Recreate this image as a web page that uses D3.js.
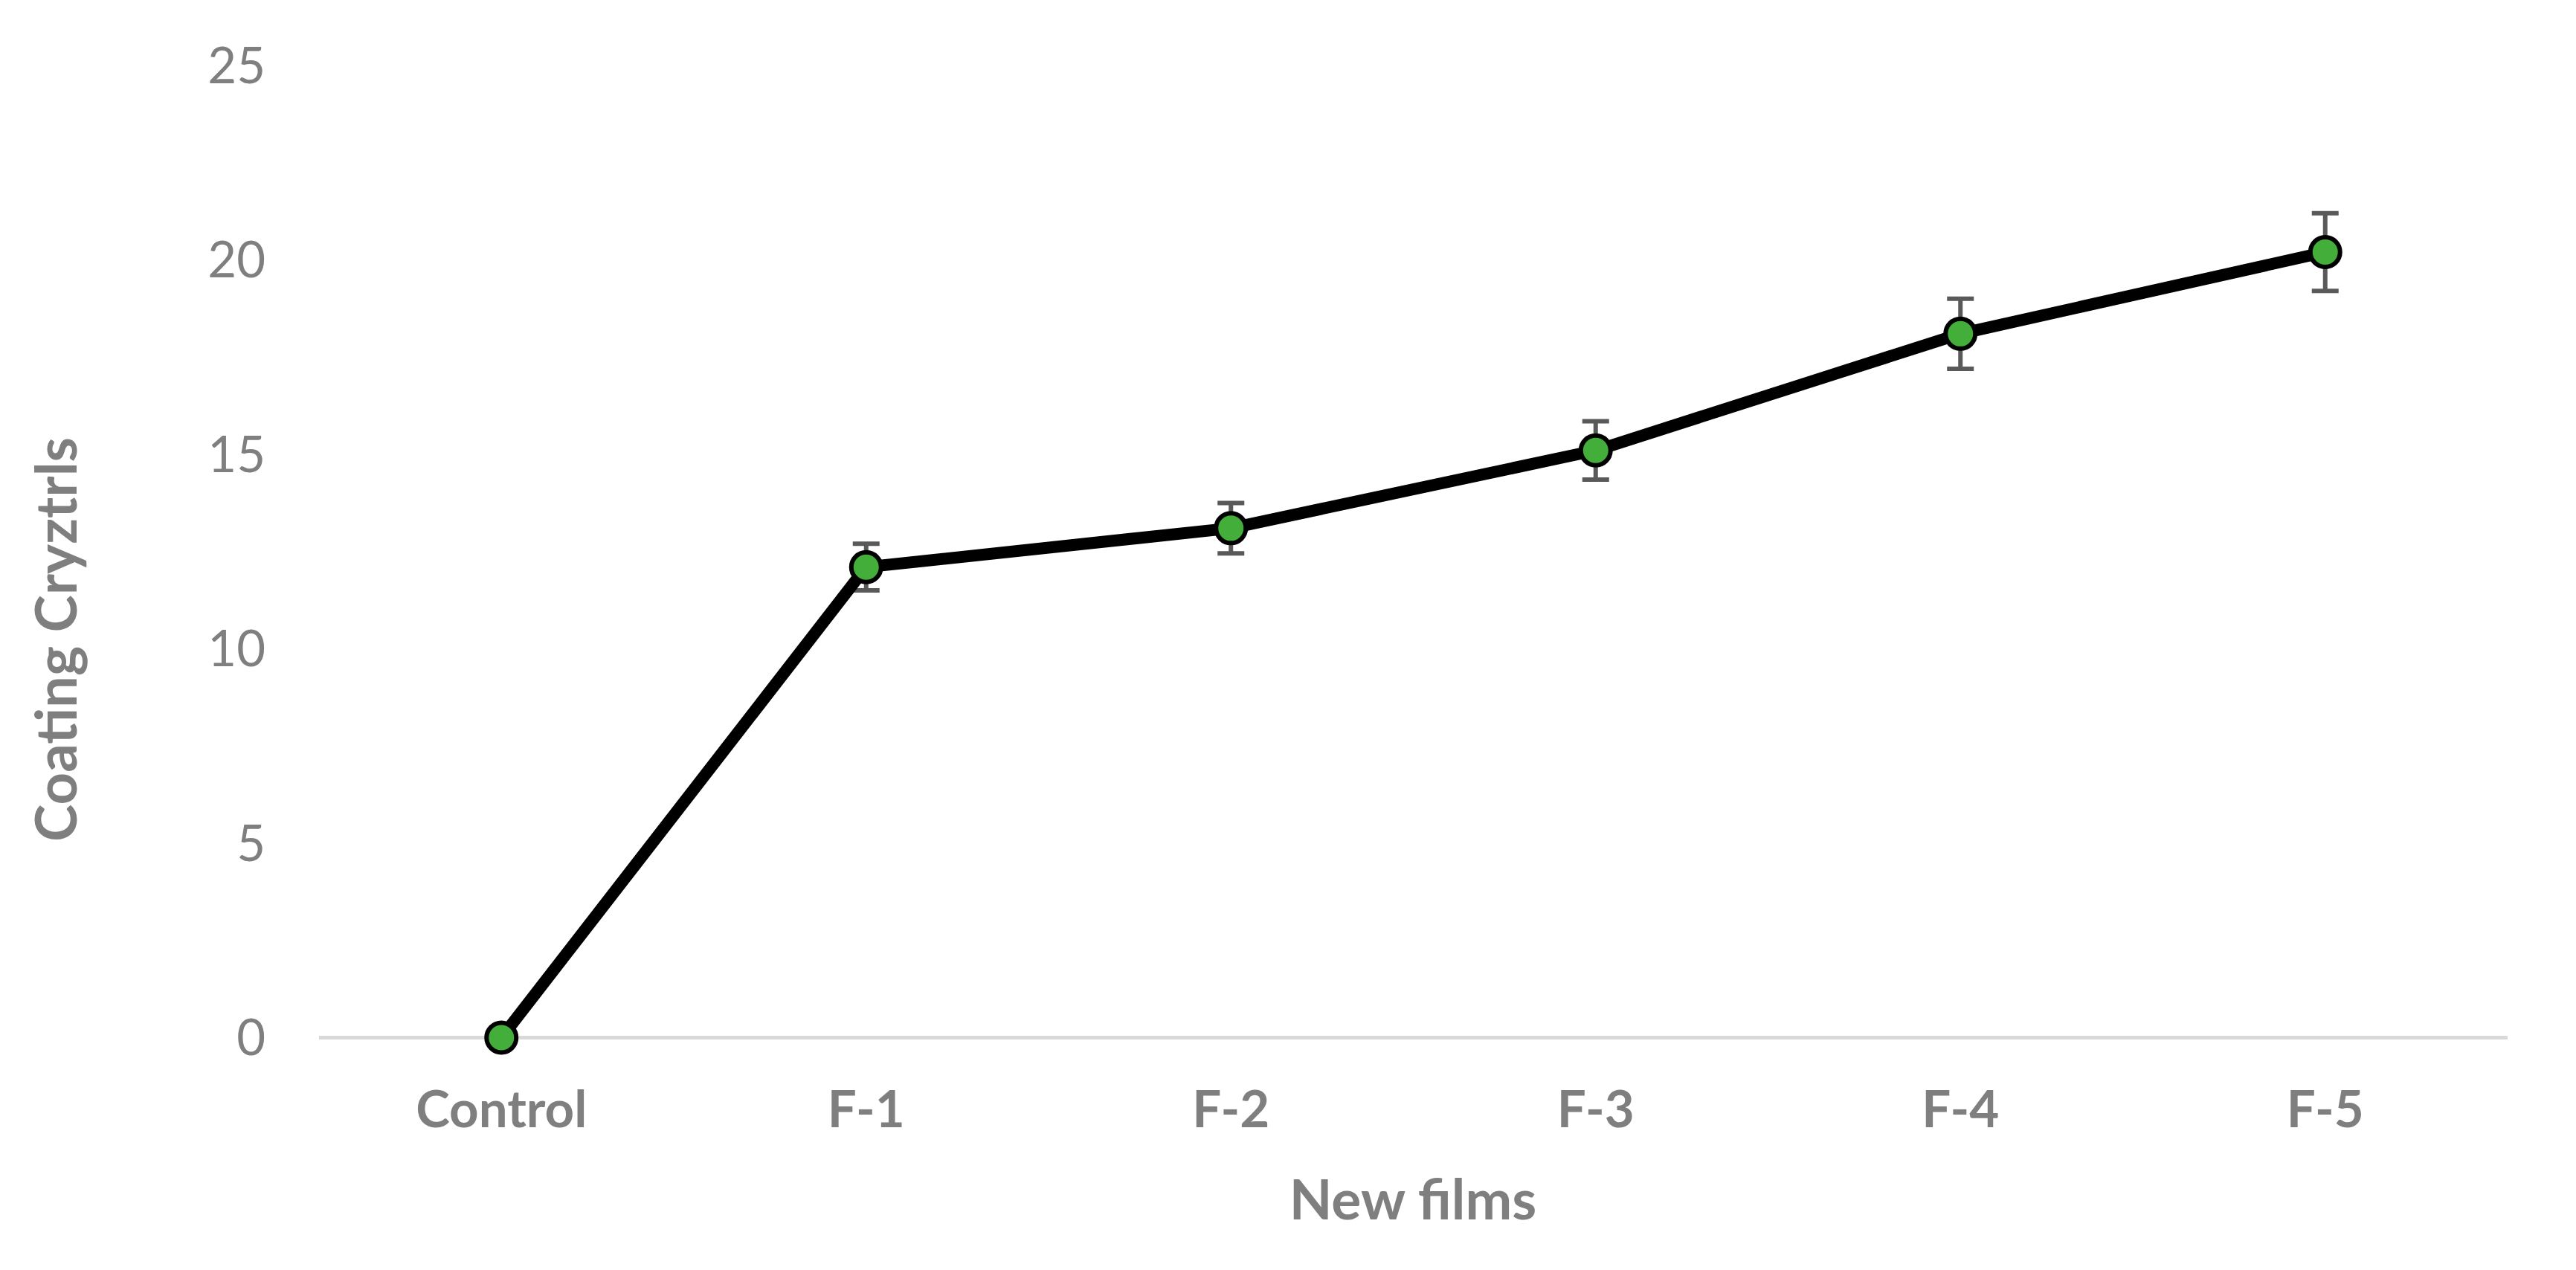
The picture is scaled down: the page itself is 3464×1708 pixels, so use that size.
<!DOCTYPE html>
<html>
<head>
<meta charset="utf-8">
<script src="https://cdn.jsdelivr.net/npm/d3@7"></script>
<style>
  html, body { margin: 0; padding: 0; background: #ffffff; }
  svg { display: block; }
</style>
</head>
<body>
<script>
// ---- data ----
const categories = ["Control", "F-1", "F-2", "F-3", "F-4", "F-5"];
const values = [0, 12.1, 13.1, 15.1, 18.1, 20.2];
const errors = [0, 0.6, 0.65, 0.75, 0.9, 1.0];
const yTicks = [0, 5, 10, 15, 20, 25];
const xTitle = "New films";
const yTitle = "Coating Cryztrls";

const W = 3464, H = 1708;
const svg = d3.select("body").append("svg").attr("width", W).attr("height", H);

const x = d3.scaleBand().domain(categories).range([429, 3372]).padding(0);
const y = d3.scaleLinear().domain([0, 25]).range([1395.5, 88]);
const cx = d => x(d) + x.bandwidth() / 2;

const gray = "#7f7f7f";
const font = "Lato, 'Open Sans', sans-serif";

// y tick labels via axis
const yAxis = d3.axisLeft(y).tickValues(yTicks).tickSize(0).tickPadding(0).tickFormat(d3.format("d"));
const gy = svg.append("g").attr("transform", "translate(357,0)").call(yAxis);
gy.select(".domain").remove();
gy.selectAll("text").attr("fill", gray).attr("font-family", font).attr("font-size", 67)
  .attr("font-weight", 400).attr("dy", "0.35em").attr("x", 0);

// x axis line (zero line)
svg.append("line").attr("x1", 429).attr("x2", 3372).attr("y1", y(0)).attr("y2", y(0))
  .attr("stroke", "#d9d9d9").attr("stroke-width", 5);

// x tick labels via axis
const xAxis = d3.axisBottom(x).tickSize(0).tickPadding(0);
const gx = svg.append("g").attr("transform", "translate(0,1516)").call(xAxis);
gx.select(".domain").remove();
gx.selectAll("text").attr("fill", gray).attr("font-family", font).attr("font-size", 69)
  .attr("font-weight", 700).attr("dy", 0).attr("y", 0);

// axis titles
svg.append("text").attr("x", 1900).attr("y", 1640).attr("text-anchor", "middle")
  .attr("fill", gray).attr("font-family", font).attr("font-size", 75).attr("font-weight", 700)
  .text(xTitle);
svg.append("text").attr("transform", "translate(103,860) rotate(-90)").attr("text-anchor", "middle")
  .attr("fill", gray).attr("font-family", font).attr("font-size", 76).attr("font-weight", 700)
  .text(yTitle);

const pts = categories.map((c, i) => ({ c, v: values[i], e: errors[i] }));

// error bars
const eb = svg.append("g").attr("stroke", "#595959").attr("stroke-width", 6).attr("fill", "none");
pts.filter(p => p.e > 0).forEach(p => {
  const X = cx(p.c);
  eb.append("line").attr("x1", X).attr("x2", X).attr("y1", y(p.v + p.e)).attr("y2", y(p.v - p.e));
  eb.append("line").attr("x1", X - 18).attr("x2", X + 18).attr("y1", y(p.v + p.e)).attr("y2", y(p.v + p.e));
  eb.append("line").attr("x1", X - 18).attr("x2", X + 18).attr("y1", y(p.v - p.e)).attr("y2", y(p.v - p.e));
});

// line
const line = d3.line().x(d => cx(d.c)).y(d => y(d.v));
svg.append("path").datum(pts).attr("d", line).attr("fill", "none")
  .attr("stroke", "#000000").attr("stroke-width", 16).attr("stroke-linejoin", "round");

// markers
svg.append("g").selectAll("circle").data(pts).join("circle")
  .attr("cx", d => cx(d.c)).attr("cy", d => y(d.v)).attr("r", 20)
  .attr("fill", "#43ae3a").attr("stroke", "#000000").attr("stroke-width", 6);
</script>
</body>
</html>
